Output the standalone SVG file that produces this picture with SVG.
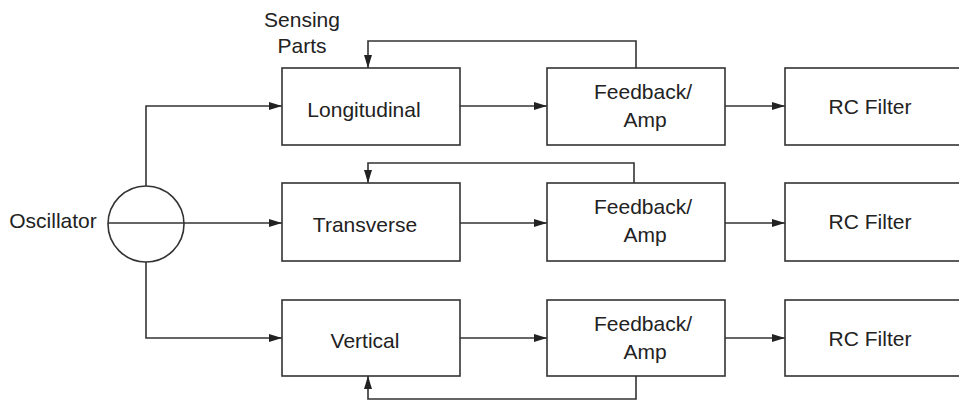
<svg xmlns="http://www.w3.org/2000/svg" width="959" height="402" viewBox="0 0 959 402">
<style>
.box{fill:#fff;stroke:#333;stroke-width:1.6}
.ln{fill:none;stroke:#333;stroke-width:1.6}
.arr{fill:none;stroke:#333;stroke-width:1.6;marker-end:url(#ah)}
text{font-family:"Liberation Sans",Arial,sans-serif;font-size:21px;fill:#222;text-anchor:middle}
</style>
<defs>
<marker id="ah" markerWidth="14" markerHeight="9" refX="13" refY="4.5" orient="auto" markerUnits="userSpaceOnUse">
<path d="M0,0.5 L13,4.5 L0,8.5 Z" fill="#222"/>
</marker>
</defs>
<rect width="959" height="402" fill="#fff"/>
<g id="connectors">
<path class="arr" d="M146,186 V106 H282"/>
<path class="arr" d="M183,223 H282"/>
<path class="arr" d="M146,262 V338 H282"/>
<path class="arr" d="M460,106 H547"/>
<path class="arr" d="M460,223 H547"/>
<path class="arr" d="M460,338 H547"/>
<path class="arr" d="M725,106 H785"/>
<path class="arr" d="M725,223 H785"/>
<path class="arr" d="M725,338 H785"/>
<path class="arr" d="M636,68 V41 H368 V68"/>
<path class="arr" d="M634,183 V163 H368 V183"/>
<path class="arr" d="M636,376 V399 H368 V376"/>
</g>
<g id="oscillator">
<circle class="box" cx="146" cy="224" r="38"/>
<path class="ln" d="M108,223 H184"/>
<text x="53" y="228">Oscillator</text>
</g>
<g id="sensing-label">
<text x="302" y="27">Sensing</text>
<text x="302" y="53">Parts</text>
</g>
<g id="longitudinal">
<rect class="box" x="282" y="68" width="178" height="77"/>
<text x="364" y="117">Longitudinal</text>
</g>
<g id="transverse">
<rect class="box" x="282" y="183" width="178" height="78"/>
<text x="365" y="232">Transverse</text>
</g>
<g id="vertical">
<rect class="box" x="282" y="300" width="178" height="76"/>
<text x="365" y="348">Vertical</text>
</g>
<g id="feedback1">
<rect class="box" x="547" y="68" width="178" height="77"/>
<text x="643" y="99">Feedback/</text>
<text x="645" y="127">Amp</text>
</g>
<g id="feedback2">
<rect class="box" x="547" y="183" width="178" height="78"/>
<text x="643" y="214">Feedback/</text>
<text x="645" y="242">Amp</text>
</g>
<g id="feedback3">
<rect class="box" x="547" y="300" width="178" height="76"/>
<text x="643" y="331">Feedback/</text>
<text x="645" y="359">Amp</text>
</g>
<g id="rc1">
<rect class="box" x="785" y="68" width="190" height="77"/>
<text x="870" y="114">RC Filter</text>
</g>
<g id="rc2">
<rect class="box" x="785" y="183" width="190" height="78"/>
<text x="870" y="229">RC Filter</text>
</g>
<g id="rc3">
<rect class="box" x="785" y="300" width="190" height="76"/>
<text x="870" y="346">RC Filter</text>
</g>
</svg>
